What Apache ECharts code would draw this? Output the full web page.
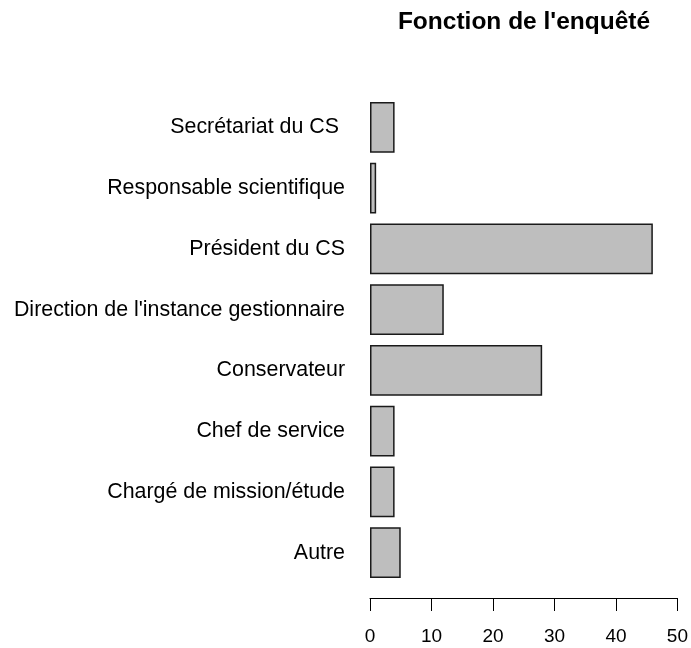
<!DOCTYPE html>
<html>
<head>
<meta charset="utf-8">
<script src="https://cdn.jsdelivr.net/npm/echarts@6/dist/echarts.min.js"></script>
<style>
  html, body { margin: 0; padding: 0; background: #fff; }
  #chart { width: 691px; height: 648px; }
</style>
</head>
<body>
<div id="chart"></div>
<script>
  // categories, bottom to top (as R draws them)
  const categories = [
    'Autre',
    'Chargé de mission/étude',
    'Chef de service',
    'Conservateur',
    "Direction de l'instance gestionnaire",
    'Président du CS',
    'Responsable scientifique',
    'Secrétariat du CS '
  ];
  const counts = [5, 4, 4, 28, 12, 46, 1, 4];
  const xTicks = [0, 10, 20, 30, 40, 50];

  const chart = echarts.init(document.getElementById('chart'));
  chart.setOption({
    animation: false,
    title: {
      text: "Fonction de l'enquêté",
      left: 519,
      textAlign: 'center',
      top: 5,
      textStyle: {
        fontFamily: 'Liberation Sans',
        fontWeight: 'bold',
        fontSize: 24.5,
        color: '#000'
      }
    },
    grid: {
      left: 370,
      right: 13,
      top: 97,
      height: 486
    },
    xAxis: {
      type: 'value',
      min: xTicks[0],
      max: xTicks[xTicks.length - 1],
      interval: 10,
      offset: 15,
      splitLine: { show: false },
      axisLine: { show: true, lineStyle: { color: '#000', width: 1 } },
      axisTick: { show: true, length: 13, lineStyle: { color: '#000' } },
      axisLabel: {
        margin: 29,
        fontFamily: 'Liberation Sans',
        fontSize: 19,
        color: '#000'
      }
    },
    yAxis: {
      type: 'category',
      data: categories,
      axisLine: { show: false },
      axisTick: { show: false },
      axisLabel: {
        margin: 25,
        fontFamily: 'Liberation Sans',
        fontSize: 21.4,
        color: '#000'
      }
    },
    series: [{
      type: 'bar',
      data: counts,
      barCategoryGap: '16.7%',
      itemStyle: {
        color: '#bebebe',
        borderColor: '#1a1a1a',
        borderWidth: 1.5
      }
    }]
  });
</script>
</body>
</html>
